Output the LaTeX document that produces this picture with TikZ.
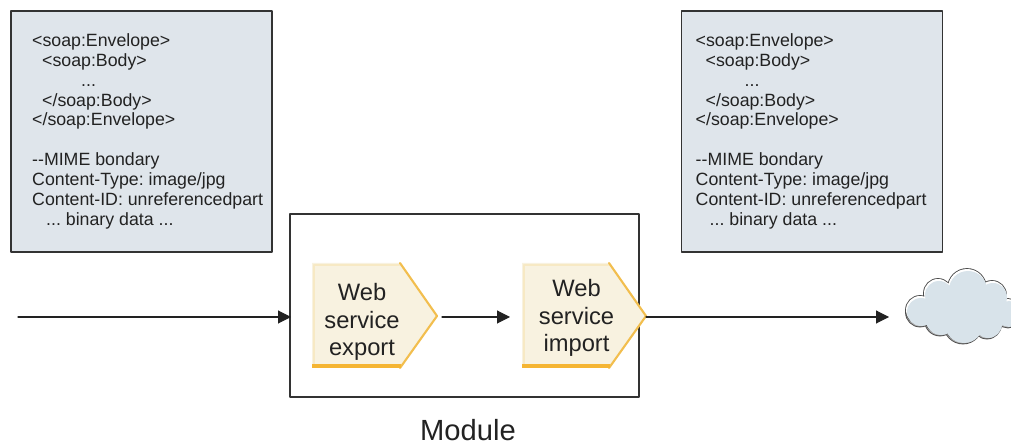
\documentclass[tikz,border=0pt]{standalone}
\usepackage{fontspec}
\setmainfont{Liberation Sans}
\usetikzlibrary{arrows.meta}

\definecolor{msgfill}{HTML}{DFE5EB}
\definecolor{cloudfill}{HTML}{D8E3EA}
\definecolor{svcfill}{HTML}{F8F2E0}
\definecolor{svcpale}{HTML}{F7E9C4}
\definecolor{svcedge}{HTML}{F2BE4E}
\definecolor{svcbase}{HTML}{F5B533}
\definecolor{framecol}{HTML}{333333}
\definecolor{inkcol}{HTML}{222222}

\tikzset{
  msgbox/.style={draw=framecol,fill=msgfill,line width=0.32pt,inner sep=0pt,
    minimum width=2.61cm,minimum height=2.41cm},
  msgtext/.style={anchor=north west,inner sep=0pt,align=left,text=inkcol,
    font=\fontsize{5.05}{5.65}\selectfont\frenchspacing},
  svclabel/.style={inner sep=0pt,align=center,text=inkcol,font=\fontsize{6.75}{7.8}\selectfont},
  flowline/.style={color=inkcol,line width=0.3pt,-{Triangle[length=3.7pt,width=3.7pt]}}
}

\newcommand{\soapmsg}{%
<soap:Envelope>\\
\hspace*{0.1cm}<soap:Body>\\
\hspace*{0.49cm}...\\
\hspace*{0.1cm}</soap:Body>\\
</soap:Envelope>\\
~\\
-{}-MIME bondary\\
Content-Type: image/jpg\\
Content-ID: unreferencedpart\\
\hspace*{0.14cm}... binary data ...}

\newcommand{\cloudlobes}{
  (9.20,1.32) circle (0.14)
  (9.38,1.49) circle (0.14)
  (9.67,1.54) circle (0.19)
  (9.92,1.47) circle (0.14)
  (10.08,1.30) circle (0.13)
  (9.63,1.20) circle (0.19)
  (9.40,1.24) circle (0.15)
  (9.87,1.20) circle (0.14)
  (9.65,1.37) circle (0.25)
  (9.93,1.31) circle (0.15)
}

\begin{document}
\begin{tikzpicture}[line cap=round,line join=round,x=1.0cm,y=1.0cm]

\clip (0.,0.) rectangle (10.11,4.42);

% message boxes
\node[msgbox] (leftmsg) at (1.415,3.105) {};
\node[msgtext] (lefttext) at (0.315,4.09) {\soapmsg};
\node[msgbox] (rightmsg) at (8.12,3.105) {};
\node[msgtext] (righttext) at (6.95,4.09) {\soapmsg};

% module
\node[draw=framecol,line width=0.32pt,minimum width=3.49cm,minimum height=1.83cm,inner sep=0pt] (module) at (4.645,1.365) {};
\node[inner sep=0pt,text=inkcol,font=\fontsize{8.3}{10}\selectfont] (modulelabel) at (4.68,0.12) {Module};

% export
\fill[svcfill] (3.12,1.79)-- (4.,1.79)-- (4.37,1.26)-- (4.,0.74)-- (3.12,0.74)-- cycle;
\draw[svcpale,line width=0.8pt] (3.14,0.76)-- (3.14,1.77)-- (3.99,1.77);
\draw[svcedge,line width=0.6pt] (4.,1.79)-- (4.37,1.26)-- (4.,0.74);
\draw[svcbase,line width=1.1pt,line cap=butt] (3.12,0.76)-- (4.01,0.76);
\node[svclabel] (export) at (3.62,1.20) {Web\\service\\export};

% import
\fill[svcfill] (5.22,1.79)-- (6.09,1.79)-- (6.46,1.26)-- (6.09,0.74)-- (5.22,0.74)-- cycle;
\draw[svcpale,line width=0.8pt] (5.24,0.76)-- (5.24,1.77)-- (6.08,1.77);
\draw[svcedge,line width=0.6pt] (6.09,1.79)-- (6.46,1.26)-- (6.09,0.74);
\draw[svcbase,line width=1.1pt,line cap=butt] (5.22,0.76)-- (6.10,0.76);
\node[svclabel] (import) at (5.765,1.24) {Web\\service\\import};

% cloud
\draw[black!70,line width=0.5pt,yshift=-0.025cm] \cloudlobes;
\fill[black!35,yshift=-0.025cm] \cloudlobes;
\draw[black!70,line width=0.5pt] \cloudlobes;
\fill[white] \cloudlobes;
\fill[cloudfill,xshift=0.01cm,yshift=-0.02cm] \cloudlobes;

% flow
\coordinate (inflow) at (0.18,1.25);
\coordinate (moduleedge) at (2.91,1.25);
\coordinate (exporttip) at (4.37,1.25);
\coordinate (importedge) at (5.22,1.25);
\coordinate (importtip) at (6.46,1.25);
\coordinate (cloudin) at (8.89,1.25);
\draw[flowline] (inflow)-- (moduleedge);
\draw[flowline,shorten <=0.05cm,shorten >=0.12cm] (exporttip)-- (importedge);
\draw[flowline] (importtip)-- (cloudin);

\end{tikzpicture}
\end{document}
